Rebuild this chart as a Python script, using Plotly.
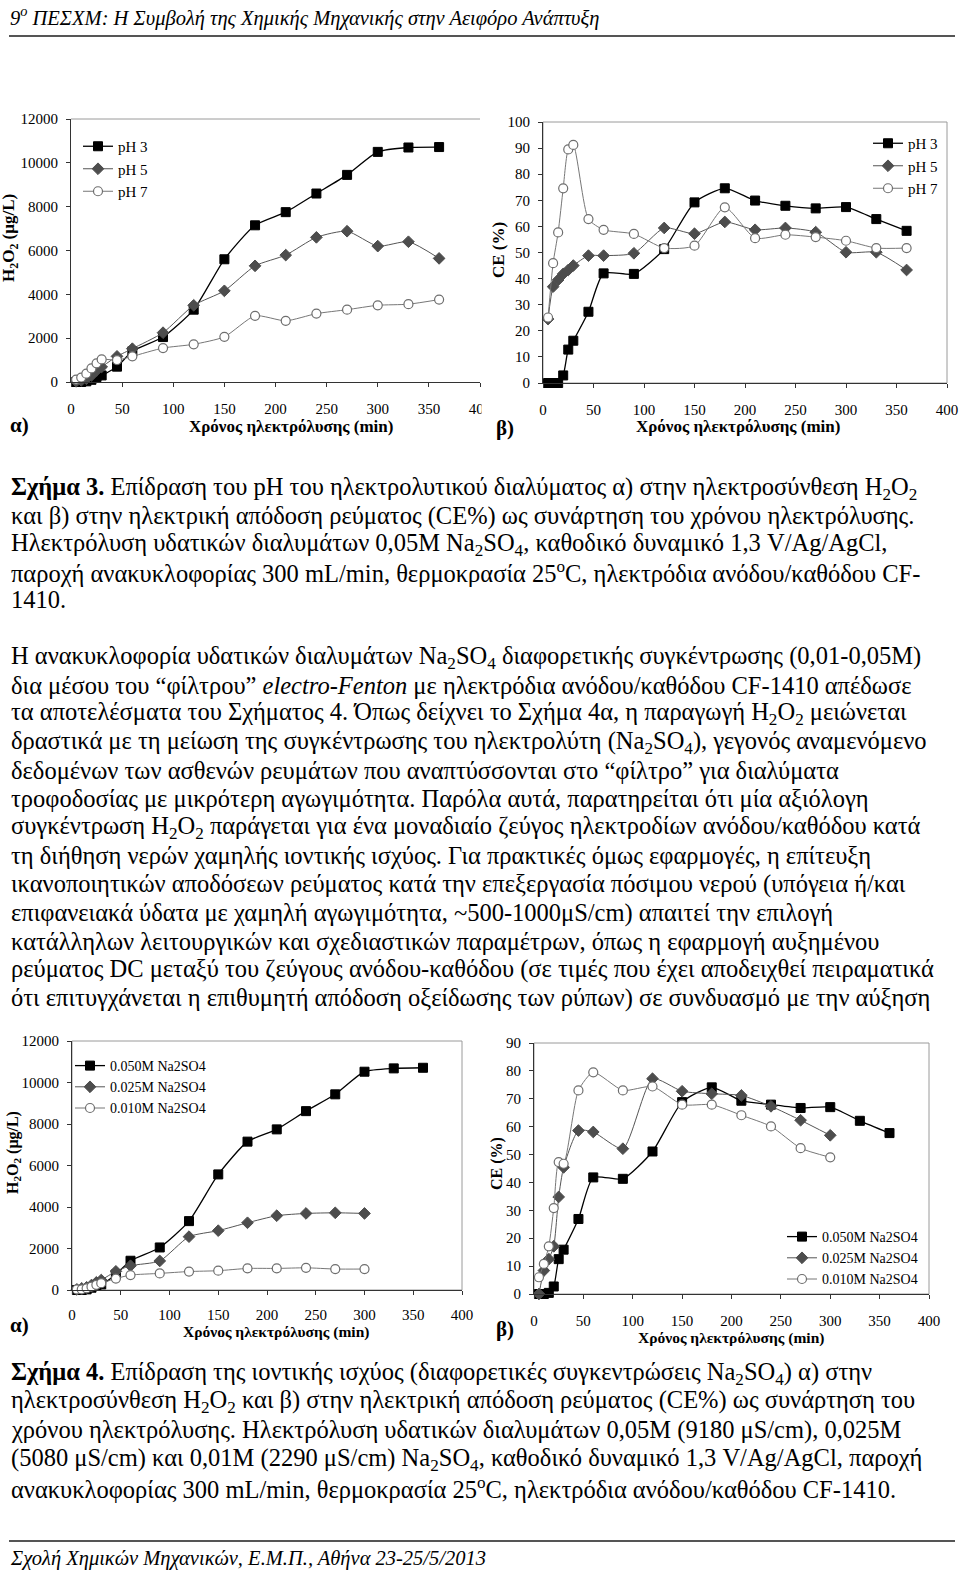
import plotly.graph_objects as go

W, H = 960, 1573
def px(x):
    return x / W
def py(y):
    return 1 - y / H

SERIF = "Liberation Serif, Times New Roman, serif"

# ---------------- data ----------------
t_all = [5, 10, 15, 20, 25, 30, 45, 60, 90, 120, 150, 180, 210, 240, 270, 300, 330, 360]
t_300 = [5, 10, 15, 20, 25, 30, 45, 60, 90, 120, 150, 180, 210, 240, 270, 300]

# Fig 3a: H2O2 (ug/L) vs time, pH effect
h2o2_ph3 = [0, 0, 30, 100, 230, 300, 700, 1400, 2050, 3300, 5600, 7150, 7750, 8600, 9450, 10500, 10700, 10720]
h2o2_ph5 = [30, 75, 150, 300, 530, 690, 1170, 1520, 2250, 3500, 4160, 5300, 5790, 6600, 6880, 6200, 6400, 5640]
h2o2_ph7 = [110, 200, 380, 620, 850, 1030, 1000, 1170, 1550, 1720, 2060, 3020, 2790, 3120, 3300, 3500, 3550, 3760]

# Fig 3b: CE (%) vs time, pH effect
ce_ph3 = [0, 0, 0, 2.9, 12.8, 16.2, 27.3, 42, 41.8, 51.3, 69.2, 74.6, 69.9, 67.9, 66.9, 67.4, 62.8, 58.3]
ce_ph5 = [24.5, 36.9, 39.5, 41.8, 43.3, 45, 48.8, 48.8, 49.7, 59.4, 57.2, 61.7, 58.7, 59.4, 57.8, 50.1, 50.1, 43.3]
ce_ph7 = [25.1, 45.9, 57.7, 74.6, 89.5, 91.2, 62.8, 58.7, 57.1, 51.7, 52.6, 67.3, 55.5, 56.8, 55.9, 54.5, 51.7, 51.7]

# Fig 4a: H2O2 (ug/L) vs time, Na2SO4 concentration
h2o2_c050 = [0, 0, 30, 110, 210, 270, 750, 1410, 2050, 3320, 5570, 7150, 7740, 8620, 9430, 10520, 10680, 10710]
h2o2_c025 = [30, 80, 130, 240, 370, 480, 900, 1170, 1400, 2570, 2860, 3240, 3580, 3690, 3720, 3690]
h2o2_c010 = [30, 30, 80, 160, 250, 330, 550, 720, 800, 890, 930, 1040, 1040, 1070, 1010, 1010]

# Fig 4b: CE (%) vs time, Na2SO4 concentration
ce_c050 = [0, 0, 0.4, 2.7, 12.5, 15.9, 26.9, 41.8, 41.3, 51.1, 68.8, 74.1, 69.3, 67.9, 66.7, 67.0, 62.1, 57.7]
ce_c025 = [0, 8.4, 12.5, 17.1, 34.8, 45.4, 58.6, 58.1, 52.1, 77.2, 72.7, 71.8, 71.2, 67.3, 62.3, 56.9]
ce_c010 = [6.0, 10.8, 17.1, 30.8, 47.3, 46.7, 73.0, 79.5, 73.0, 74.4, 67.9, 67.9, 64.1, 60.1, 52.3, 49.0]

names_ph = ["pH 3", "pH 5", "pH 7"]
names_c = ["0.050M Na2SO4", "0.025M Na2SO4", "0.010M Na2SO4"]
x_ticks = [0, 50, 100, 150, 200, 250, 300, 350, 400]

header_text = "9<sup>ο</sup> ΠΕΣΧΜ: Η Συμβολή της Χημικής Μηχανικής στην Αειφόρο Ανάπτυξη"
footer_text = "Σχολή Χημικών Μηχανικών, Ε.Μ.Π., Αθήνα 23-25/5/2013"
x_title = "Χρόνος ηλεκτρόλυσης (min)"
y_title_h2o2 = "H<sub>2</sub>O<sub>2</sub> (μg/L)"
y_title_ce = "CE (%)"

caption3 = [
    "<b>Σχήμα 3.</b> Επίδραση του pH του ηλεκτρολυτικού διαλύματος α) στην ηλεκτροσύνθεση H<sub>2</sub>O<sub>2</sub>",
    "και β) στην ηλεκτρική απόδοση ρεύματος (CE%) ως συνάρτηση του χρόνου ηλεκτρόλυσης.",
    "Ηλεκτρόλυση υδατικών διαλυμάτων 0,05M Na<sub>2</sub>SO<sub>4</sub>, καθοδικό δυναμικό 1,3 V/Ag/AgCl,",
    "παροχή ανακυκλοφορίας 300 mL/min, θερμοκρασία 25<sup>o</sup>C, ηλεκτρόδια ανόδου/καθόδου CF-",
    "1410.",
]
paragraph = [
    "Η ανακυκλοφορία υδατικών διαλυμάτων Na<sub>2</sub>SO<sub>4</sub> διαφορετικής συγκέντρωσης (0,01-0,05M)",
    "δια μέσου του “φίλτρου” <i>electro-Fenton</i> με ηλεκτρόδια ανόδου/καθόδου CF-1410 απέδωσε",
    "τα αποτελέσματα του Σχήματος 4. Όπως δείχνει το Σχήμα 4α, η παραγωγή H<sub>2</sub>O<sub>2</sub> μειώνεται",
    "δραστικά με τη μείωση της συγκέντρωσης του ηλεκτρολύτη (Na<sub>2</sub>SO<sub>4</sub>), γεγονός αναμενόμενο",
    "δεδομένων των ασθενών ρευμάτων που αναπτύσσονται στο “φίλτρο” για διαλύματα",
    "τροφοδοσίας με μικρότερη αγωγιμότητα. Παρόλα αυτά, παρατηρείται ότι μία αξιόλογη",
    "συγκέντρωση H<sub>2</sub>O<sub>2</sub> παράγεται για ένα μοναδιαίο ζεύγος ηλεκτροδίων ανόδου/καθόδου κατά",
    "τη διήθηση νερών χαμηλής ιοντικής ισχύος. Για πρακτικές όμως εφαρμογές, η επίτευξη",
    "ικανοποιητικών αποδόσεων ρεύματος κατά την επεξεργασία πόσιμου νερού (υπόγεια ή/και",
    "επιφανειακά ύδατα με χαμηλή αγωγιμότητα, ~500-1000μS/cm) απαιτεί την επιλογή",
    "κατάλληλων λειτουργικών και σχεδιαστικών παραμέτρων, όπως η εφαρμογή αυξημένου",
    "ρεύματος DC μεταξύ του ζεύγους ανόδου-καθόδου (σε τιμές που έχει αποδειχθεί πειραματικά",
    "ότι επιτυγχάνεται η επιθυμητή απόδοση οξείδωσης των ρύπων) σε συνδυασμό με την αύξηση",
]
caption4 = [
    "<b>Σχήμα 4.</b> Επίδραση της ιοντικής ισχύος (διαφορετικές συγκεντρώσεις Na<sub>2</sub>SO<sub>4</sub>) α) στην",
    "ηλεκτροσύνθεση H<sub>2</sub>O<sub>2</sub> και β) στην ηλεκτρική απόδοση ρεύματος (CE%) ως συνάρτηση του",
    "χρόνου ηλεκτρόλυσης. Ηλεκτρόλυση υδατικών διαλυμάτων 0,05M (9180 μS/cm), 0,025M",
    "(5080 μS/cm) και 0,01M (2290 μS/cm) Na<sub>2</sub>SO<sub>4</sub>, καθοδικό δυναμικό 1,3 V/Ag/AgCl, παροχή",
    "ανακυκλοφορίας 300 mL/min, θερμοκρασία 25<sup>o</sup>C, ηλεκτρόδια ανόδου/καθόδου CF-1410.",
]

# ---------------- styles ----------------
styles = [
    dict(marker=dict(symbol="square", size=9, color="black", line=dict(color="black", width=1)),
         line=dict(color="black", width=1.3, shape="spline", smoothing=0.6)),
    dict(marker=dict(symbol="diamond", size=9, color="#4d4d4d", line=dict(color="#4d4d4d", width=1)),
         line=dict(color="#555555", width=1, shape="spline", smoothing=0.6)),
    dict(marker=dict(symbol="circle", size=9, color="white", line=dict(color="#6e6e6e", width=1.2)),
         line=dict(color="#777777", width=1, shape="spline", smoothing=0.6)),
]

fig = go.Figure()

def add_series(xs_list, ys_list, names, ax, leg):
    for i, (xs, ys, nm) in enumerate(zip(xs_list, ys_list, names)):
        fig.add_trace(go.Scatter(
            x=xs, y=ys, name=nm, mode="lines+markers",
            xaxis="x" + ax, yaxis="y" + ax, legend=leg,
            cliponaxis=False, **styles[i]))

add_series([t_all, t_all, t_all], [h2o2_ph3, h2o2_ph5, h2o2_ph7], names_ph, "", "legend")
add_series([t_all, t_all, t_all], [ce_ph3, ce_ph5, ce_ph7], names_ph, "2", "legend2")
add_series([t_all, t_300, t_300], [h2o2_c050, h2o2_c025, h2o2_c010], names_c, "3", "legend3")
add_series([t_all, t_300, t_300], [ce_c050, ce_c025, ce_c010], names_c, "4", "legend4")

def xaxis(dom, fs, anchor, standoff):
    return dict(domain=dom, range=[0, 400], tickvals=x_ticks, showgrid=False, zeroline=False,
                showline=True, linecolor="#333333", linewidth=1, ticks="outside", ticklen=4,
                tickcolor="#333333", tickfont=dict(family=SERIF, size=fs, color="black"),
                tickformat="d", ticklabelstandoff=standoff, anchor=anchor, fixedrange=True,
                automargin=False)

def yaxis(dom, rng, dt, fs, anchor):
    return dict(domain=dom, range=rng, dtick=dt, tick0=0, showgrid=False, zeroline=False,
                showline=True, linecolor="#333333", linewidth=1, ticks="outside", ticklen=4,
                tickcolor="#333333", tickfont=dict(family=SERIF, size=fs, color="black"),
                tickformat="d", ticklabelstandoff=5, anchor=anchor, fixedrange=True,
                automargin=False)

layout = dict(
    width=W, height=H, autosize=False,
    margin=dict(l=0, r=0, t=0, b=0, pad=0, autoexpand=False),
    paper_bgcolor="white", plot_bgcolor="white", showlegend=True,
    xaxis=xaxis([px(71), px(480)], 15, "y", 9),
    yaxis=yaxis([py(382), py(119)], [0, 12000], 2000, 15, "x"),
    xaxis2=xaxis([px(543), px(947)], 15, "y2", 9),
    yaxis2=yaxis([py(383), py(122)], [0, 100], 10, 15, "x2"),
    xaxis3=xaxis([px(72), px(462)], 15, "y3", 7),
    yaxis3=yaxis([py(1290), py(1041)], [0, 12000], 2000, 15, "x3"),
    xaxis4=xaxis([px(534), px(929)], 15, "y4", 9),
    yaxis4=yaxis([py(1294), py(1043)], [0, 90], 10, 15, "x4"),
)

def legend(x, y, fs):
    return dict(x=px(x), y=py(y), xanchor="left", yanchor="top", bgcolor="rgba(0,0,0,0)",
                borderwidth=0, font=dict(family=SERIF, size=fs, color="black"),
                itemwidth=30, tracegroupgap=0)

layout["legend"] = legend(78, 130, 15)
layout["legend2"] = legend(868, 127, 15)
layout["legend3"] = legend(70, 1050, 14)
layout["legend4"] = legend(782, 1221, 14)
fig.update_layout(**layout)

# plot frames (light grey box)
shapes = []
for ax, sides in [("", "top"), ("2", "box"), ("3", "box"), ("4", "box")]:
    xr, yr = "x" + ax + " domain", "y" + ax + " domain"
    if sides == "top":
        shapes.append(dict(type="line", xref=xr, yref=yr, x0=0, x1=1, y0=1, y1=1,
                           line=dict(color="#9a9a9a", width=1)))
    else:
        shapes.append(dict(type="rect", xref=xr, yref=yr, x0=0, x1=1, y0=0, y1=1,
                           line=dict(color="#9a9a9a", width=1), layer="below"))
# header / footer rules
shapes.append(dict(type="line", xref="paper", yref="paper", x0=px(9), x1=px(955), y0=py(36), y1=py(36),
                   line=dict(color="#555555", width=2)))
shapes.append(dict(type="line", xref="paper", yref="paper", x0=px(9), x1=px(955), y0=py(1541), y1=py(1541),
                   line=dict(color="#555555", width=2)))
# the left chart of Fig. 3 is cut at its right edge in the page
shapes.append(dict(type="rect", xref="paper", yref="paper", x0=px(481.5), x1=px(494), y0=py(418), y1=py(396),
                   fillcolor="white", line=dict(width=0), layer="above"))
fig.update_layout(shapes=shapes)

anns = []
def ann(text, x, y, size, xanchor="left", angle=0, yanchor="middle"):
    anns.append(dict(text=text, x=px(x), y=py(y), xref="paper", yref="paper", xanchor=xanchor,
                     yanchor=yanchor, showarrow=False, textangle=angle,
                     font=dict(family=SERIF, size=size, color="black")))

# header & footer
ann("<i>" + header_text + "</i>", 8, 16, 20.5)
ann("<i>" + footer_text + "</i>", 8, 1558, 20.5)

# chart labels
ann("<b>" + x_title + "</b>", 291, 426, 17, "center")
ann("<b>" + x_title + "</b>", 738, 426, 17, "center")
ann("<b>" + x_title + "</b>", 276, 1332, 15.5, "center")
ann("<b>" + x_title + "</b>", 731, 1338, 15.5, "center")
ann("<b>" + y_title_h2o2 + "</b>", 10, 238, 17, "center", -90)
ann("<b>" + y_title_ce + "</b>", 498, 250, 17, "center", -90)
ann("<b>" + y_title_h2o2 + "</b>", 13, 1153, 16, "center", -90)
ann("<b>" + y_title_ce + "</b>", 497, 1164, 16, "center", -90)
ann("<b>α)</b>", 8, 425, 21)
ann("<b>β)</b>", 494, 428, 21)
ann("<b>α)</b>", 8, 1325, 21)
ann("<b>β)</b>", 494, 1329, 21)

# body text
BODY = 24.5
for i, line in enumerate(caption3):
    ann(line, 9, 488 + 28.0 * i, BODY)
for i, line in enumerate(paragraph):
    ann(line, 9, 657 + 28.4 * i, BODY)
for i, line in enumerate(caption4):
    ann(line, 9, 1373 + 28.7 * i, BODY)

fig.update_layout(annotations=anns)
# page body margin reset so the 960x1573 figure fills the window exactly
fig.write_html("out.html", config={"displayModeBar": False},
               post_script="document.body.style.margin='0';document.body.style.overflow='hidden';")
